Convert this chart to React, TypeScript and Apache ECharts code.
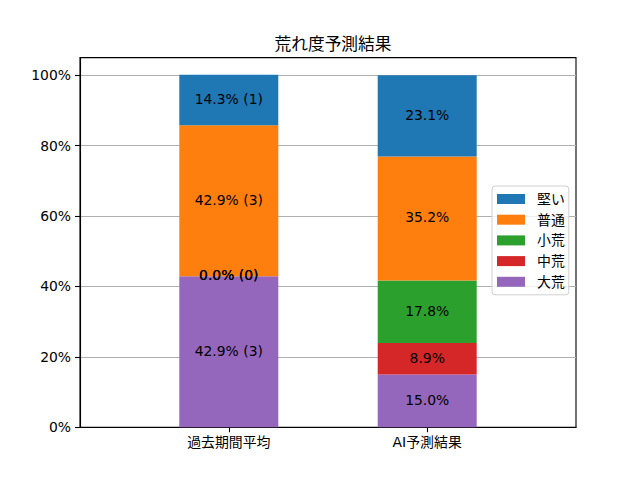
import React, { useEffect, useRef } from "react";
import * as echarts from "echarts";

const title = "荒れ度予測結果";
const categories = ["過去期間平均", "AI予測結果"];
const levels = ["大荒", "中荒", "小荒", "普通", "堅い"];
const levelColors = ["#9467bd", "#d62728", "#2ca02c", "#ff7f0e", "#1f77b4"];
const pastPct = [42.9, 0.0, 0.0, 42.9, 14.3];
const pastCount = [3, 0, 0, 3, 1];
const aiPct = [15.0, 8.9, 17.8, 35.2, 23.1];
const yTicks = [0, 20, 40, 60, 80, 100];

// x slots in steps of 0.25 from -0.75 to 1.75 (bars sit at 0 and 1)
const SLOT_COUNT = 11;
const SLOT_BAR = [3, 7];

const FONT = "'DejaVu Sans', 'Noto Sans CJK JP', sans-serif";
const FS = 13.9;

export default function App() {
  const ref = useRef<HTMLDivElement>(null);
  useEffect(() => {
    if (!ref.current) return;
    const chart = echarts.init(ref.current, undefined, { renderer: "svg" });
    const slotNames = Array.from({ length: SLOT_COUNT }, (_, k) => {
      const bi = SLOT_BAR.indexOf(k);
      return bi >= 0 ? categories[bi] : `s${k}`;
    });
    const series = levels.map((name, i) => {
      const data: any[] = Array(SLOT_COUNT).fill("-");
      data[SLOT_BAR[0]] = pastPct[i];
      data[SLOT_BAR[1]] = aiPct[i];
      return {
        name,
        type: "bar",
        stack: "total",
        barWidth: 99,
        itemStyle: { color: levelColors[i] },
        data,
        label: {
          show: true,
          position: "inside",
          offset: [0, -1],
          color: "#000",
          fontFamily: FONT,
          fontSize: FS,
          formatter: (p: any) => {
            if (p.dataIndex === SLOT_BAR[0]) return `${pastPct[i].toFixed(1)}% (${pastCount[i]})`;
            return `${aiPct[i].toFixed(1)}%`;
          },
        },
      };
    });
    const isBarSlot = (idx: number) => SLOT_BAR.indexOf(idx) >= 0;
    chart.setOption({
      animation: false,
      textStyle: { fontFamily: FONT },
      title: {
        text: title,
        left: 328,
        top: 31,
        textAlign: "center",
        textStyle: { fontFamily: FONT, fontSize: 16.7, fontWeight: "normal", color: "#000" },
      },
      grid: {
        left: 80,
        right: 64,
        top: 57.6,
        bottom: 52.8,
        show: true,
        borderColor: "#000",
        borderWidth: 1.1,
        containLabel: false,
      },
      legend: {
        orient: "vertical",
        left: 492,
        top: 186,
        data: [...levels].reverse(),
        icon: "rect",
        itemWidth: 28,
        itemHeight: 10,
        itemGap: 6.7,
        padding: [6, 4, 6, 5],
        borderColor: "#d0d0d0",
        borderWidth: 1,
        borderRadius: 3,
        backgroundColor: "rgba(255,255,255,0.8)",
        textStyle: { fontFamily: FONT, fontSize: FS, color: "#000", lineHeight: 14, padding: [0, 0, 0, 7] },
      },
      xAxis: {
        type: "category",
        data: slotNames,
        boundaryGap: false,
        splitLine: { show: false },
        axisLine: { show: true, lineStyle: { color: "#000", width: 1.1 } },
        axisTick: {
          show: true,
          interval: (idx: number) => isBarSlot(idx),
          length: 5,
          lineStyle: { color: "#000", width: 1.1 },
        },
        axisLabel: {
          interval: (idx: number) => isBarSlot(idx),
          margin: 8,
          fontFamily: FONT,
          fontSize: FS,
          color: "#000",
        },
      },
      yAxis: {
        type: "value",
        min: 0,
        max: 105,
        interval: 20,
        splitLine: { show: true, lineStyle: { color: "#b0b0b0", width: 1.1 } },
        axisLine: { show: true, onZero: false, lineStyle: { color: "#000", width: 1.1 } },
        axisTick: { show: true, customValues: yTicks, length: 5, lineStyle: { color: "#000", width: 1.1 } },
        axisLabel: {
          customValues: yTicks,
          margin: 9,
          fontFamily: FONT,
          fontSize: FS,
          color: "#000",
          formatter: (v: number) => (v > 100 ? "" : `${v}%`),
        },
      },
      series,
    });
    return () => chart.dispose();
  }, []);
  return (
    <div
      ref={ref}
      style={{ position: "absolute", left: 0, top: 0, width: 640, height: 480, background: "#fff" }}
    />
  );
}
